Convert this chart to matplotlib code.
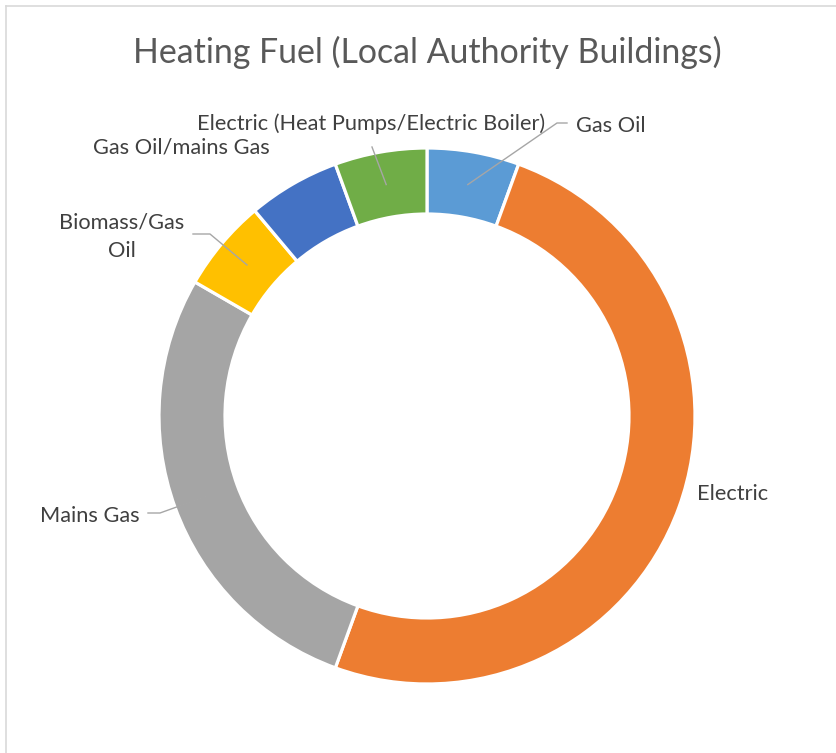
import matplotlib
matplotlib.use("Agg")
import matplotlib.pyplot as plt
import numpy as np
from matplotlib.lines import Line2D

# ---- data ----
categories = ["Gas Oil", "Electric", "Mains Gas", "Biomass/Gas\nOil",
              "Gas Oil/mains Gas", "Electric (Heat Pumps/Electric Boiler)"]
values = [1, 9, 5, 1, 1, 1]
colors = ["#5B9BD5", "#ED7D31", "#A5A5A5", "#FFC000", "#4472C4", "#70AD47"]
title = "Heating Fuel (Local Authority Buildings)"

FONT = "Lato"
W, H = 836, 753
fig = plt.figure(figsize=(W / 100, H / 100), dpi=100)
ax = fig.add_axes([0, 0, 1, 1])

cx, cy = 427, H - 416
R_out, R_in = 268, 202
wedges, _ = ax.pie(values, colors=colors, startangle=90, counterclock=False,
                   radius=R_out, center=(cx, cy),
                   wedgeprops=dict(width=R_out - R_in, edgecolor="white", linewidth=2.3))
ax.set_xlim(0, W)
ax.set_ylim(0, H)
ax.set_aspect("equal")
ax.axis("off")

def P(x, y):
    return (x, H - y)

# label layout: (x, baseline y (px from top), ha, leader points after wedge mid, target width)
layout = [
    (576, 132, "left", [(557, 123), (567, 123)], 67),
    (697, 500, "left", None, 70),
    (140, 522, "right", [(160, 513), (148, 513)], 99),
    (122, 228, "center", [(210, 234), (193, 234)], 124),
    (93, 153, "left", None, 176),
    (371, 130, "center", [(372, 147)], 352),
]

r_mid = (R_out + R_in) / 2
for w, (lx, ly, ha, pts, tw) in zip(wedges, layout):
    if pts is None:
        continue
    th = np.deg2rad((w.theta1 + w.theta2) / 2)
    xs = [cx + r_mid * np.cos(th)] + [p[0] for p in pts]
    ys = [cy + r_mid * np.sin(th)] + [H - p[1] for p in pts]
    ax.add_line(Line2D(xs, ys, color="#A6A6A6", lw=1.0, zorder=3))

renderer = fig.canvas.get_renderer()

# fit common label font size
base = 10
tot_w, tot_t = 0, 0
for cat, (lx, ly, ha, pts, tw) in zip(categories, layout):
    first = cat.split("\n")[0]
    t = ax.text(0, 0, first, fontsize=base, family=FONT)
    tot_w += t.get_window_extent(renderer).width
    tot_t += tw
    t.remove()
lab_fs = base * tot_t / tot_w

for cat, (lx, ly, ha, pts, tw) in zip(categories, layout):
    for i, line in enumerate(cat.split("\n")):
        ax.text(lx, H - (ly + 29 * i), line, fontsize=lab_fs, family=FONT,
                color="#404040", ha=ha, va="baseline", zorder=4)

t = ax.text(0, 0, title, fontsize=base, family=FONT)
tfs = base * 589 / t.get_window_extent(renderer).width
t.remove()
ax.text(427.5, H - 63, title, fontsize=tfs, family=FONT, color="#595959",
        ha="center", va="baseline")

# chart area border (partially visible)
fig.add_artist(Line2D([5.5 / W, 1], [1 - 5.5 / H, 1 - 5.5 / H], transform=fig.transFigure,
                      color="#D9D9D9", lw=1.2))
fig.add_artist(Line2D([5.5 / W, 5.5 / W], [0, 1 - 5.5 / H], transform=fig.transFigure,
                      color="#D9D9D9", lw=1.2))

fig.savefig("out.png", dpi=100, facecolor="white")
